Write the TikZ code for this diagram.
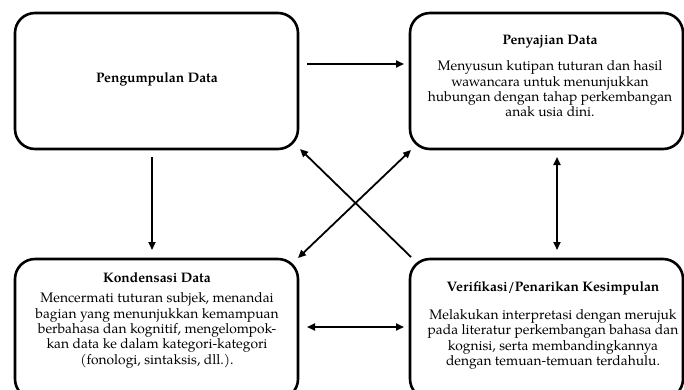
\documentclass[tikz,border=0pt]{standalone}
\usepackage{fontspec}
\setmainfont{TeX Gyre Pagella}
\usetikzlibrary{arrows.meta}
\tikzset{
  box/.style={draw=black, line width=2.6pt, rounded corners=20pt, inner sep=0pt, outer sep=0pt},
  ttl/.style={font=\fontsize{13.8}{15.4}\selectfont\bfseries, inner sep=0pt, align=center},
  bdy/.style={font=\fontsize{13.8}{15.4}\selectfont, inner sep=0pt, align=center},
  arr/.style={line width=1.8pt, -{Triangle[length=8pt,width=7pt]}},
  darr/.style={line width=1.8pt, {Triangle[length=8pt,width=7pt]}-{Triangle[length=8pt,width=7pt]}}
}
\begin{document}
\begin{tikzpicture}[x=1pt,y=-1pt]
\useasboundingbox (0,0) rectangle (684,389);
\clip (0,0) rectangle (684,389);
\node[box, minimum width=283pt, minimum height=136pt] (b1) at (156.5,81) {};
\node[box, minimum width=273pt, minimum height=136pt] (b2) at (546.5,81) {};
\node[box, minimum width=283pt, minimum height=140pt] (b3) at (156.5,329) {};
\node[box, minimum width=273pt, minimum height=140pt] (b4) at (546.5,329) {};

\node[ttl] (t1) at (157,79) {Pengumpulan Data};
\node[ttl] (t2) at (550,42) {Penyajian Data};
\node[bdy] (d2) at (550,89) {Menyusun kutipan tuturan dan hasil\\wawancara untuk menunjukkan\\hubungan dengan tahap perkembangan\\anak usia dini.};
\node[ttl] (t3) at (157,278) {Kondensasi Data};
\node[bdy] (d3) at (157,330.5) {Mencermati tuturan subjek, menandai\\bagian yang menunjukkan kemampuan\\berbahasa dan kognitif, mengelompok-\\kan data ke dalam kategori-kategori\\(fonologi, sintaksis, dll.).};
\node[ttl] (t4) at (553,288) {Verifikasi/Penarikan Kesimpulan};
\node[bdy] (d4) at (553,339.5) {Melakukan interpretasi dengan merujuk\\pada literatur perkembangan bahasa dan\\kognisi, serta membandingkannya\\dengan temuan-temuan terdahulu.};

\draw[arr] ([shift={(9,-17)}]b1.east) -- ([shift={(-6,-17)}]b2.west);
\draw[arr] ([shift={(-4.5,8)}]b1.south) -- ([shift={(-4.5,-9)}]b3.north);
\draw[darr] ([shift={(10.5,8)}]b2.south) -- ([shift={(10.5,-9)}]b4.north);
\draw[darr] ([shift={(9,68)}]b3.north east) -- ([shift={(-6,68)}]b4.north west);
\draw[arr] ([shift={(1,-2)}]b4.north west) -- ([shift={(2,0)}]b1.south east);
\draw[darr] ([shift={(0,-1)}]b3.north east) -- ([shift={(1,1)}]b2.south west);
\end{tikzpicture}
\end{document}
